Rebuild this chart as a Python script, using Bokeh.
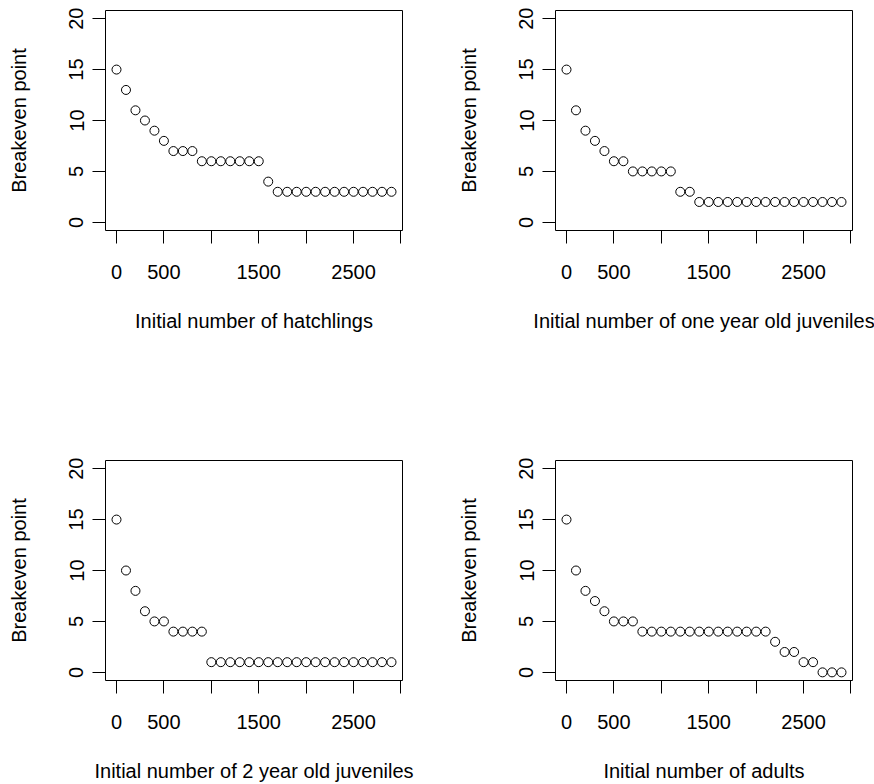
from bokeh.plotting import figure
from bokeh.layouts import column, row
from bokeh.models import Range1d, FixedTicker
from bokeh.embed import file_html
from bokeh.resources import INLINE

# Initial population sizes tested for each life stage
initial_numbers = [0, 100, 200, 300, 400, 500, 600, 700, 800, 900,
                   1000, 1100, 1200, 1300, 1400, 1500, 1600, 1700, 1800, 1900,
                   2000, 2100, 2200, 2300, 2400, 2500, 2600, 2700, 2800, 2900]

# Breakeven point for each initial number
hatchlings = [15, 13, 11, 10, 9, 8, 7, 7, 7, 6,
              6, 6, 6, 6, 6, 6, 4, 3, 3, 3,
              3, 3, 3, 3, 3, 3, 3, 3, 3, 3]
one_year_juveniles = [15, 11, 9, 8, 7, 6, 6, 5, 5, 5,
                      5, 5, 3, 3, 2, 2, 2, 2, 2, 2,
                      2, 2, 2, 2, 2, 2, 2, 2, 2, 2]
two_year_juveniles = [15, 10, 8, 6, 5, 5, 4, 4, 4, 4,
                      1, 1, 1, 1, 1, 1, 1, 1, 1, 1,
                      1, 1, 1, 1, 1, 1, 1, 1, 1, 1]
adults = [15, 10, 8, 7, 6, 5, 5, 5, 4, 4,
          4, 4, 4, 4, 4, 4, 4, 4, 4, 4,
          4, 4, 3, 2, 2, 1, 1, 0, 0, 0]

x_titles = ["Initial number of hatchlings",
            "Initial number of one year old juveniles",
            "Initial number of 2 year old juveniles",
            "Initial number of adults"]
y_title = "Breakeven point"

x_ticks = [0, 500, 1000, 1500, 2000, 2500, 3000]
x_tick_labels = ["0", "500", "", "1500", "", "2500", ""]
y_ticks = [0, 5, 10, 15, 20]

FONT = "Liberation Sans"
FS = "20px"


def panel(values, xtitle, borders):
    left, right, top, bottom = borders
    p = figure(width=437, height=392, output_backend="svg", toolbar_location=None,
               x_range=Range1d(-116, 3016), y_range=Range1d(-0.8, 20.8),
               min_border_left=left, min_border_right=right,
               min_border_top=top, min_border_bottom=bottom)
    p.background_fill_color = "white"
    p.border_fill_color = "white"
    p.outline_line_color = "black"
    p.outline_line_width = 1
    p.xgrid.visible = False
    p.ygrid.visible = False

    p.scatter(initial_numbers, values, marker="circle", size=9,
              fill_color=None, line_color="black", line_width=1)

    for ax in (p.xaxis[0], p.yaxis[0]):
        ax.axis_line_color = None
        ax.major_tick_in = 0
        ax.major_tick_out = 13
        ax.major_tick_line_color = "black"
        ax.major_tick_line_width = 1
        ax.minor_tick_line_color = None
        ax.major_label_text_font = FONT
        ax.major_label_text_font_size = FS
        ax.major_label_text_color = "black"
        ax.axis_label_text_font = FONT
        ax.axis_label_text_font_size = FS
        ax.axis_label_text_font_style = "normal"
        ax.axis_label_text_color = "black"

    xa = p.xaxis[0]
    xa.ticker = FixedTicker(ticks=x_ticks)
    xa.major_label_overrides = {t: lab for t, lab in zip(x_ticks, x_tick_labels)}
    xa.major_label_standoff = 21
    xa.axis_label = xtitle
    xa.axis_label_standoff = 28

    ya = p.yaxis[0]
    ya.ticker = FixedTicker(ticks=y_ticks)
    ya.major_label_orientation = "vertical"
    ya.major_label_standoff = 9
    ya.axis_label = y_title
    ya.axis_label_standoff = 37
    return p


p1 = panel(hatchlings, x_titles[0], (105, 35, 10, 162))
p2 = panel(one_year_juveniles, x_titles[1], (118, 22, 10, 162))
p3 = panel(two_year_juveniles, x_titles[2], (105, 35, 68, 104))
p4 = panel(adults, x_titles[3], (118, 22, 68, 104))

layout = column(row(p1, p2), row(p3, p4))

open("out.html", "w").write(file_html(layout, INLINE))
